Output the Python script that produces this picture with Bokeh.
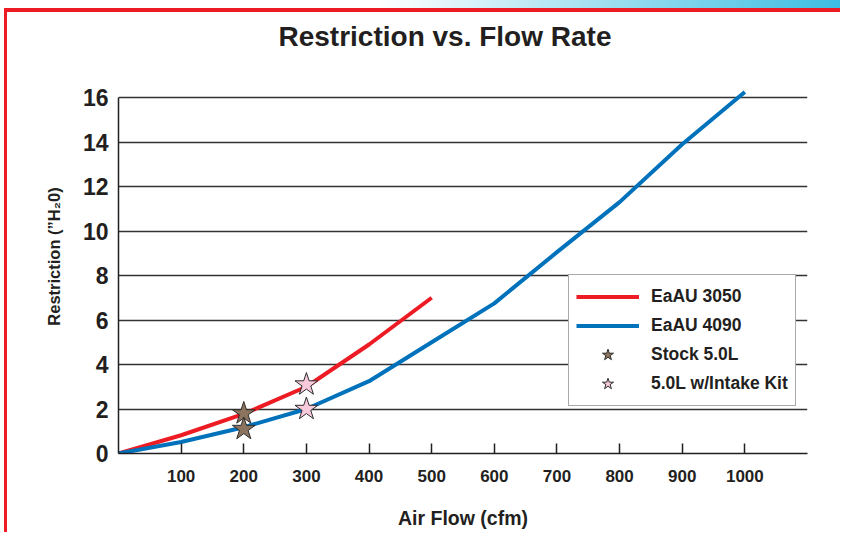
from bokeh.plotting import figure
from bokeh.layouts import column
from bokeh.models import Range1d, FixedTicker, Legend, LegendItem
from bokeh.embed import file_html
from bokeh.resources import INLINE

# ---- data ----
flow_3050 = [0, 100, 200, 300, 400, 500]
restr_3050 = [0, 0.82, 1.78, 3.0, 4.9, 7.0]
flow_4090 = [0, 100, 200, 300, 400, 500, 600, 700, 800, 900, 1000]
restr_4090 = [0, 0.52, 1.18, 2.0, 3.25, 5.0, 6.75, 9.05, 11.3, 13.9, 16.25]
stock_flow = [200, 200]
stock_restr = [1.8, 1.1]
kit_flow = [300, 300]
kit_restr = [3.1, 2.0]
x_ticks = [100, 200, 300, 400, 500, 600, 700, 800, 900, 1000]
y_ticks = [0, 2, 4, 6, 8, 10, 12, 14, 16]
title_text = "Restriction vs. Flow Rate"

FONT = "Liberation Sans"
INK = "#231f20"

# the frame reaches above the 16 line (blank space) so the title can sit high
p = figure(width=836, height=524, output_backend="svg", toolbar_location=None,
           x_range=Range1d(0, 1100), y_range=Range1d(0, 17.71),
           min_border_left=111, min_border_right=36, min_border_top=47,
           min_border_bottom=83, title=title_text)
p.styles = {"border-left": "3px solid #ed1c24", "border-top": "4px solid #ed1c24"}
p.outline_line_color = None
p.background_fill_color = "white"
p.border_fill_color = "white"

p.title.text_font = FONT
p.title.text_font_size = "28px"
p.title.text_font_style = "bold"
p.title.text_color = INK
p.title.align = "left"
p.title.offset = 160
p.title.vertical_align = "top"
p.title.standoff = 11

# axes
xa = p.xaxis[0]
xa.ticker = FixedTicker(ticks=x_ticks)
xa.bounds = (0, 1100)
xa.major_tick_in = 10
xa.major_tick_out = 0
xa.minor_tick_in = 0
xa.minor_tick_out = 0
xa.axis_line_color = INK
xa.axis_line_width = 1.5
xa.major_tick_line_color = INK
xa.major_tick_line_width = 1.5
xa.major_label_text_font = FONT
xa.major_label_text_font_size = "17px"
xa.major_label_text_font_style = "bold"
xa.major_label_text_color = INK
xa.major_label_standoff = 16
xa.axis_label = "Air Flow (cfm)"
xa.axis_label_text_font = FONT
xa.axis_label_text_font_size = "19.5px"
xa.axis_label_text_font_style = "bold"
xa.axis_label_text_color = INK
xa.axis_label_standoff = 22

ya = p.yaxis[0]
ya.ticker = FixedTicker(ticks=y_ticks)
ya.bounds = (0, 16)
ya.major_tick_in = 0
ya.major_tick_out = 0
ya.minor_tick_in = 0
ya.minor_tick_out = 0
ya.axis_line_color = INK
ya.axis_line_width = 1.5
ya.major_label_text_font = FONT
ya.major_label_text_font_size = "23px"
ya.major_label_text_font_style = "bold"
ya.major_label_text_color = INK
ya.major_label_standoff = 10
ya.axis_label = "Restriction (\u201dH\u20820)"
ya.axis_label_text_font = FONT
ya.axis_label_text_font_size = "16.5px"
ya.axis_label_text_font_style = "bold"
ya.axis_label_text_color = INK
ya.axis_label_standoff = 17

p.xgrid.visible = False
p.ygrid.ticker = FixedTicker(ticks=y_ticks[1:])
p.ygrid.grid_line_color = "#333333"
p.ygrid.grid_line_width = 1.3

# data
r1 = p.line(flow_3050, restr_3050, line_color="#ed1c24", line_width=4)
r2 = p.line(flow_4090, restr_4090, line_color="#0072bc", line_width=4)
r3 = p.scatter(stock_flow, stock_restr, marker="star", size=24,
               fill_color="#8b735e", line_color="#2b2b2b", line_width=1)
r4 = p.scatter(kit_flow, kit_restr, marker="star", size=24,
               fill_color="#f9c9dc", line_color="#2b2b2b", line_width=1)

legend = Legend(items=[
    LegendItem(label="EaAU 3050", renderers=[r1]),
    LegendItem(label="EaAU 4090", renderers=[r2]),
    LegendItem(label="Stock 5.0L", renderers=[r3]),
    LegendItem(label="5.0L w/Intake Kit", renderers=[r4]),
], location=(450, 47))
legend.glyph_width = 63
legend.glyph_height = 29
legend.label_height = 29
legend.spacing = 0
legend.padding = 7
legend.margin = 0
legend.label_standoff = 12
legend.label_text_font = FONT
legend.label_text_font_size = "17.5px"
legend.label_text_font_style = "bold"
legend.label_text_color = INK
legend.border_line_color = "#555555"
legend.border_line_width = 1.5
legend.background_fill_color = "white"
legend.background_fill_alpha = 1
p.add_layout(legend)

page = column(p)
page.styles = {"padding-top": "8px", "padding-left": "4px",
               "background": "linear-gradient(to right, #ffffff 0%, #ffffff 45%, #3dbde2 100%) 0 0 / 100% 8px no-repeat, #ffffff"}

open("out.html", "w").write(file_html(page, INLINE))
